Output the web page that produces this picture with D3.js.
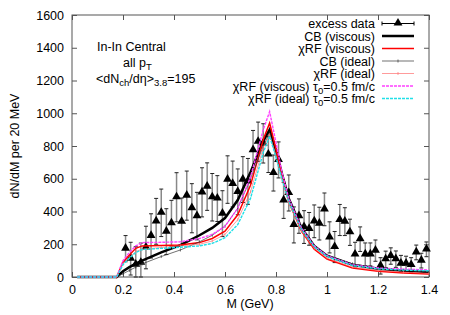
<!DOCTYPE html>
<html>
<head>
<meta charset="utf-8">
<script src="https://cdn.jsdelivr.net/npm/d3@7"></script>
<style>
  body { margin: 0; background: #fff; }
  svg text { font-family: "Liberation Sans", Arial, sans-serif; font-size: 12.5px; fill: #000; }
</style>
</head>
<body>
<svg id="chart" width="450" height="315"></svg>
<script>
// excess dimuon data (NA60 In-In)
var massData = [0.21, 0.23, 0.25, 0.27, 0.29, 0.31, 0.33, 0.35, 0.37, 0.39,
                0.41, 0.43, 0.45, 0.47, 0.49, 0.51, 0.53, 0.55, 0.57, 0.59,
                0.61, 0.63, 0.65, 0.67, 0.69, 0.71, 0.73, 0.75, 0.77, 0.79,
                0.81, 0.83, 0.85, 0.87, 0.89, 0.91, 0.93, 0.95, 0.97, 0.99,
                1.01, 1.03, 1.05, 1.07, 1.09, 1.11, 1.13, 1.15, 1.17, 1.19,
                1.21, 1.23, 1.25, 1.27, 1.29, 1.31, 1.33, 1.35, 1.37, 1.39];
var excess = [173, 112, 75, 87, 180, 251, 340, 392, 277, 328,
              487, 337, 497, 420, 372, 517, 552, 487, 479, 387,
              595, 568, 520, 595, 584, 775, 826, 816, 748, 635,
              715, 468, 513, 318, 372, 305, 294, 340, 326, 413,
              242, 183, 348, 338, 273, 137, 231, 138, 138, 161,
              68, 108, 128, 109, 82, 82, 73, 150, 100, 169];
var excessErr = [80, 100, 110, 120, 130, 135, 140, 145, 140, 140,
                 150, 145, 150, 150, 145, 150, 145, 145, 140, 140,
                 145, 140, 140, 140, 140, 120, 120, 120, 110, 110,
                 110, 110, 110, 110, 105, 100, 100, 100, 100, 100,
                 95, 95, 95, 85, 80, 75, 75, 70, 70, 65,
                 50, 50, 50, 50, 50, 45, 45, 45, 45, 45];

// model curves, all on the same mass grid
var massGrid   = [0.02, 0.175, 0.2, 0.225, 0.25, 0.275, 0.35, 0.425, 0.5, 0.55, 0.6, 0.65, 0.7, 0.75, 0.775, 0.8, 0.825, 0.85, 0.9, 0.95, 1.0, 1.1, 1.2, 1.3, 1.4];
var cbVisc     = [0, 0, 35, 60, 82, 100, 150, 195, 255, 300, 360, 470, 640, 830, 900, 770, 620, 480, 300, 190, 130, 75, 50, 38, 30];
var chiVisc    = [0, 0, 90, 135, 175, 190, 192, 195, 210, 235, 280, 380, 560, 840, 940, 780, 610, 460, 280, 170, 110, 55, 35, 25, 18];
var cbIdeal    = [0, 0, 20, 40, 60, 80, 125, 165, 215, 255, 310, 420, 600, 800, 880, 740, 600, 470, 290, 185, 130, 80, 55, 42, 32];
var chiIdeal   = [0, 0, 80, 120, 155, 170, 180, 190, 200, 220, 260, 350, 520, 790, 870, 740, 590, 450, 280, 175, 115, 60, 40, 30, 22];
var chiViscTau = [0, 0, 100, 150, 190, 210, 212, 215, 235, 260, 310, 420, 610, 900, 1010, 820, 630, 480, 300, 190, 130, 75, 55, 48, 43];
var chiIdealTau = [0, 0, 75, 115, 150, 168, 175, 182, 190, 205, 240, 320, 480, 760, 860, 730, 590, 460, 290, 185, 125, 70, 50, 42, 38];

var xTicks = [0, 0.2, 0.4, 0.6, 0.8, 1, 1.2, 1.4];
var yTicks = [0, 200, 400, 600, 800, 1000, 1200, 1400, 1600];

var curves = [
    {name: ["CB (viscous)"], values: cbVisc, color: "#000", width: 2.5},
    {name: ["χRF (viscous)"], values: chiVisc, color: "#f00", width: 1.5},
    {name: ["CB (ideal)"], values: cbIdeal, color: "#333", width: 0.7, marks: true},
    {name: ["χRF (ideal)"], values: chiIdeal, color: "#ff7070", width: 0.7, marks: true},
    {name: ["χRF (viscous) τ", "0", "=0.5 fm/c"], values: chiViscTau, color: "#ff40ff", width: 1.4, dash: "3,1"},
    {name: ["χRF (ideal) τ", "0", "=0.5 fm/c"], values: chiIdealTau, color: "#20e0e8", width: 1.4, dash: "3,1"}
];

var svg = d3.select("#chart");
var x = d3.scaleLinear().domain([0, 1.4]).range([72, 429]);
var y = d3.scaleLinear().domain([0, 1600]).range([277, 15]);

// axes, gnuplot style: ticks inside, mirrored
function styleAxis(g){
    g.select(".domain").remove();
    g.selectAll(".tick line").attr("stroke", "#555");
    g.selectAll(".tick text").style("font-size", "12.5px").attr("fill", "#000");
}
svg.append("g").attr("transform", "translate(0,277)")
    .call(d3.axisBottom(x).tickValues(xTicks).tickSizeInner(-5).tickSizeOuter(0).tickPadding(8).tickFormat(d3.format("~g")))
    .call(styleAxis);
svg.append("g").attr("transform", "translate(0,15)")
    .call(d3.axisTop(x).tickValues(xTicks).tickSizeInner(-5).tickSizeOuter(0).tickFormat(""))
    .call(styleAxis);
svg.append("g").attr("transform", "translate(72,0)")
    .call(d3.axisLeft(y).tickValues(yTicks).tickSizeInner(-5).tickSizeOuter(0).tickPadding(8).tickFormat(d3.format("d")))
    .call(styleAxis);
svg.append("g").attr("transform", "translate(429,0)")
    .call(d3.axisRight(y).tickValues(yTicks).tickSizeInner(-5).tickSizeOuter(0).tickFormat(""))
    .call(styleAxis);

svg.append("rect")
    .attr("x", 72).attr("y", 15).attr("width", 357).attr("height", 262)
    .attr("fill", "none").attr("stroke", "#555").attr("stroke-width", 1);

// axis titles
svg.append("text").attr("x", 250).attr("y", 308).attr("text-anchor", "middle").text("M (GeV)");
svg.append("text").attr("transform", "translate(19,146) rotate(-90)")
    .attr("text-anchor", "middle").text("dN/dM per 20 MeV");

// annotation
var note = svg.append("g");
note.append("text").attr("x", 97).attr("y", 51).text("In-In Central");
var t2 = note.append("text").attr("x", 123).attr("y", 67);
t2.append("tspan").text("all p");
t2.append("tspan").attr("dy", 3).style("font-size", "9.5px").text("T");
var t3 = note.append("text").attr("x", 96).attr("y", 83);
t3.append("tspan").text("<dN");
t3.append("tspan").attr("dy", 3).style("font-size", "9.5px").text("ch");
t3.append("tspan").attr("dy", -3).text("/dη>");
t3.append("tspan").attr("dy", 3).style("font-size", "9.5px").text("3.8");
t3.append("tspan").attr("dy", -3).text("=195");

// data points with error bars
var pts = massData.map(function(m, i){ return {m: m, v: excess[i], e: excessErr[i]}; });
var plot = svg.append("g");
var eb = plot.selectAll(".eb").data(pts).enter().append("g").attr("class", "eb");
eb.append("line")
    .attr("x1", function(d){ return x(d.m); }).attr("x2", function(d){ return x(d.m); })
    .attr("y1", function(d){ return y(Math.max(d.v - d.e, 0)); })
    .attr("y2", function(d){ return y(d.v + d.e); })
    .attr("stroke", "#888").attr("stroke-width", 1.5);
eb.append("line")
    .attr("x1", function(d){ return x(d.m) - 2; }).attr("x2", function(d){ return x(d.m) + 2; })
    .attr("y1", function(d){ return y(d.v + d.e); }).attr("y2", function(d){ return y(d.v + d.e); })
    .attr("stroke", "#222").attr("stroke-width", 1);
eb.append("line")
    .attr("x1", function(d){ return x(d.m) - 2; }).attr("x2", function(d){ return x(d.m) + 2; })
    .attr("y1", function(d){ return y(Math.max(d.v - d.e, 0)); }).attr("y2", function(d){ return y(Math.max(d.v - d.e, 0)); })
    .attr("stroke", "#222").attr("stroke-width", 1);

var tri = d3.symbol().type(d3.symbolTriangle).size(34);
plot.selectAll(".pt").data(pts).enter().append("path")
    .attr("class", "pt")
    .attr("d", tri)
    .attr("transform", function(d){ return "translate(" + x(d.m) + "," + (y(d.v) - 0.5) + ")"; })
    .attr("fill", "#000");

// model curves
var line = d3.line()
    .x(function(d){ return x(d[0]); })
    .y(function(d){ return y(d[1]); });

curves.forEach(function(c){
    var pairs = massGrid.map(function(m, i){ return [m, c.values[i]]; });
    plot.append("path")
        .datum(pairs)
        .attr("d", line)
        .attr("fill", "none")
        .attr("stroke", c.color)
        .attr("stroke-width", c.width)
        .attr("stroke-linejoin", "miter")
        .attr("stroke-dasharray", c.dash || null);
    if (c.marks){
        plot.selectAll(null).data(pairs.slice(1)).enter().append("line")
            .attr("x1", function(d){ return x(d[0]); }).attr("x2", function(d){ return x(d[0]); })
            .attr("y1", function(d){ return y(d[1]) - 1.5; }).attr("y2", function(d){ return y(d[1]) + 1.5; })
            .attr("stroke", c.color).attr("stroke-width", 0.7);
    }
});

// legend
var legend = svg.append("g");
var rowY = [23.5, 36, 48.5, 61, 73.5, 86, 98.5];
var lx0 = 382, lx1 = 414;

var r0 = legend.append("g");
r0.append("text").attr("x", 375).attr("y", rowY[0] + 4.5).attr("text-anchor", "end").text("excess data");
r0.append("line").attr("x1", lx0).attr("x2", lx1).attr("y1", rowY[0]).attr("y2", rowY[0]).attr("stroke", "#000");
r0.append("line").attr("x1", lx0).attr("x2", lx0).attr("y1", rowY[0] - 2).attr("y2", rowY[0] + 2).attr("stroke", "#000");
r0.append("line").attr("x1", lx1).attr("x2", lx1).attr("y1", rowY[0] - 2).attr("y2", rowY[0] + 2).attr("stroke", "#000");
r0.append("path").attr("d", tri).attr("transform", "translate(" + (lx0 + lx1) / 2 + "," + (rowY[0] - 0.5) + ")");

curves.forEach(function(c, i){
    var yy = rowY[i + 1];
    var t = legend.append("text").attr("x", 375).attr("y", yy + 4.5).attr("text-anchor", "end");
    t.append("tspan").text(c.name[0]);
    if (c.name.length > 1){
        t.append("tspan").attr("dy", 3).style("font-size", "9.5px").text(c.name[1]);
        t.append("tspan").attr("dy", -3).text(c.name[2]);
    }
    legend.append("line")
        .attr("x1", lx0).attr("x2", lx1).attr("y1", yy).attr("y2", yy)
        .attr("stroke", c.color).attr("stroke-width", c.width)
        .attr("stroke-dasharray", c.dash || null);
    if (c.marks){
        legend.append("line")
            .attr("x1", (lx0 + lx1) / 2).attr("x2", (lx0 + lx1) / 2)
            .attr("y1", yy - 1.5).attr("y2", yy + 1.5)
            .attr("stroke", c.color).attr("stroke-width", 0.7);
    }
});
</script>
</body>
</html>
